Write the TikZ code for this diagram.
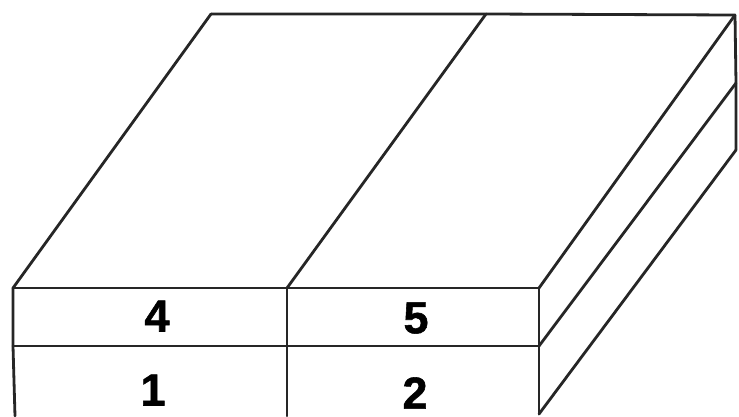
\documentclass[tikz,border=0pt]{standalone}
\usepackage{fontspec}
\setmainfont[BoldFeatures={FakeBold=1.2}]{Liberation Sans}
\tikzset{
  edgeline/.style={draw=black!85, line width=2.8pt, line join=round, line cap=round},
  digit/.style={font=\fontsize{45}{45}\selectfont\bfseries, text=black, inner sep=0pt},
}
\begin{document}
\begin{tikzpicture}[x=1pt,y=-1pt]
\useasboundingbox (0,0) rectangle (739,416);
\fill[white] (0,0) rectangle (739,416);
% back edge
\coordinate (tl) at (211,14);
\coordinate (tm) at (486,14);
\coordinate (tr) at (735,15);
\coordinate (rm) at (736,83);
\coordinate (rb) at (736,150);
% front top
\coordinate (fl) at (13,288);
\coordinate (fm) at (287,288);
\coordinate (fr) at (539,288);
% front middle
\coordinate (ml) at (13,346);
\coordinate (mm) at (287,346);
\coordinate (mr) at (539,346);
% front bottom
\coordinate (bl) at (15,416);
\coordinate (bm) at (287,416);
\coordinate (br) at (539,414);
\draw[edgeline] (tl) -- (tm) -- (tr) -- (rm) -- (rb);
\draw[edgeline] (tl) -- (fl);
\draw[edgeline] (tm) -- (fm);
\draw[edgeline] (tr) -- (fr);
\draw[edgeline] (rm) -- (mr);
\draw[edgeline] (rb) -- (br);
\draw[edgeline] (fl) -- (fm) -- (fr);
\draw[edgeline] (ml) -- (mm) -- (mr);
\draw[edgeline] (fl) -- (ml) -- (bl);
\draw[edgeline] (fm) -- (mm) -- (bm);
\draw[edgeline] (fr) -- (mr) -- (br);
\node[digit] (n4) at (157,316) {4};
\node[digit] (n5) at (416,318) {5};
\node[digit] (n1) at (153,390) {1};
\node[digit] (n2) at (415,393) {2};
\end{tikzpicture}
\end{document}
